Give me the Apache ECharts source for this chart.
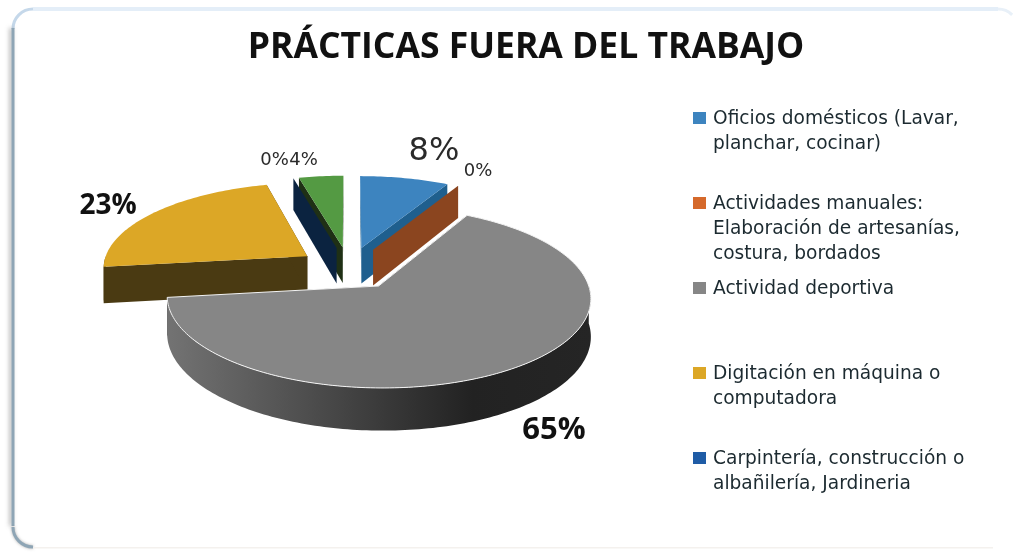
<!DOCTYPE html>
<html><head><meta charset="utf-8">
<style>html,body{margin:0;padding:0;background:#fff}#c{width:1018px;height:552px}</style>
<script src="https://cdn.jsdelivr.net/npm/echarts@6/dist/echarts.min.js"></script>
</head><body><div id="c"></div>
<script>
const categories = [
  'Oficios domésticos (Lavar,\nplanchar, cocinar)',
  'Actividades manuales:\nElaboración de artesanías,\ncostura, bordados',
  'Actividad deportiva',
  'Digitación en máquina o\ncomputadora',
  'Carpintería, construcción o\nalbañilería, Jardineria',
  'Otros'
];
const values = [8, 0, 65, 23, 0, 4];
const legendColors = ['#3d84bf', '#d5692b', '#868686', '#dca726', '#1f5ca6', '#549a43'];
const wallColors = ['#1f5f8e', '#8b451f', '#3f3f3f', '#4a3a12', '#0b2340', '#1f3015'];
const drawZ = [2, 5, 6, 1, 4, 3];
const legendTops = [107, 192, 277, 362, 447];
const labelLayout = [
  {x:434,y:152,size:32,weight:'normal',font:'"DejaVu Sans", sans-serif'},
  {x:478,y:171,size:18,weight:'normal',font:'"DejaVu Sans", sans-serif'},
  {x:554,y:430,size:31,weight:'bold',font:'"Open Sans", sans-serif'},
  {x:108,y:206,size:28,weight:'bold',font:'"Open Sans", sans-serif'},
  {x:274.5,y:160,size:18,weight:'normal',font:'"DejaVu Sans", sans-serif'},
  {x:303.5,y:160,size:18,weight:'normal',font:'"DejaVu Sans", sans-serif'}
];
const FONT = '"DejaVu Sans", sans-serif';
const view = {cx:349, cy:268, sx:205, sy:85, k:0.12, explode:0.25, depth:36.5};

function project(X, Y){
  const s = 1/(1+view.k*Y);
  return [view.cx + view.sx*X*s, view.cy - view.sy*Y*s, s];
}
function angleRange(i){
  let sum = 0; for(let j=0;j<i;j++) sum += values[j];
  const total = values.reduce((a,b)=>a+b,0);
  return [sum/total*Math.PI*2, (sum+values[i])/total*Math.PI*2];
}
function renderSlice(i, api){
  const v = api.value(0);
  const [a0,a1] = angleRange(i);
  const mid = (a0+a1)/2;
  const ex = Math.sin(mid)*view.explode, ey = Math.cos(mid)*view.explode;
  const apex = project(ex,ey);
  const rim = t => project(ex+Math.sin(t), ey+Math.cos(t));
  const flat = p => [p[0], p[1]];
  const down = p => [p[0], p[1]+view.depth*p[2]];
  const top=[flat(apex)]; const N=Math.max(1,Math.ceil((a1-a0)/0.02));
  for(let n=0;n<=N;n++) top.push(flat(rim(a0+(a1-a0)*n/N)));
  const children=[];
  const topColor = legendColors[i], wall = wallColors[i];
  const face = t => ({type:'polygon',shape:{points:[flat(apex),flat(rim(t)),down(rim(t)),down(apex)]},style:{fill:wall}});
  children.push(face(a0)); if(v>0) children.push(face(a1));
  if(v>0){
    const lo=Math.max(a0,Math.PI/2), hi=Math.min(a1,Math.PI*1.5);
    if(hi>lo){
      const upper=[]; const M=Math.ceil((hi-lo)/0.02);
      for(let n=0;n<=M;n++) upper.push(rim(lo+(hi-lo)*n/M));
      const xs=upper.map(p=>p[0]);
      const fill = i===2 ? {type:'linear',global:true,x:Math.max(...xs),y:0,x2:Math.min(...xs),y2:0,
        colorStops:[{offset:0,color:'#252525'},{offset:0.28,color:'#222222'},{offset:0.6,color:'#464646'},{offset:1,color:'#737373'}]} : wall;
      children.push({type:'polygon',shape:{points:upper.map(flat).concat(upper.map(down).reverse())},style:{fill}});
    }
    children.push({type:'polygon',shape:{points:top},style:{fill:topColor,stroke:i===2?'#f4f4f4':'none',lineWidth:i===2?1:0}});
  }
  const L=labelLayout[i];
  children.push({type:'text',z2:10,style:{text:v+'%',x:L.x,y:L.y,fill:L.weight==='bold'?'#111111':'#2a2a2a',
    font:L.weight+' '+L.size+'px '+L.font,textAlign:'center',textVerticalAlign:'middle'}});
  return {type:'group',children};
}
const series = categories.map((name,i)=>({
  type:'custom', name, coordinateSystem:'none', z:drawZ[i], silent:true,
  itemStyle:{color:legendColors[i]}, data:[[values[i]]],
  renderItem:(p,api)=>renderSlice(i,api)
}));
const legends = legendTops.map((t,i)=>{
  const h = categories[i].split('\n').length*25;
  const d = `M0,0L15,0L0,0Z M0,5H13V17H0Z M0,${h}L15,${h}L0,${h}Z`;
  return {left:693, top:t, orient:'vertical', selectedMode:false, data:[{name:categories[i],icon:'path://'+d}],
    itemWidth:15, itemHeight:h, padding:0, itemGap:0,
    textStyle:{fontFamily:FONT,fontSize:18.6,lineHeight:25,color:'#1c2a30'}};
});
const frameGraphic = [
  {type:'rect',z:0,shape:{x:33,y:7,width:965,height:4},style:{fill:'#e4eef8'}},
  {type:'arc',z:0,shape:{cx:33,cy:29,r:20,startAngle:Math.PI,endAngle:Math.PI*1.5},style:{stroke:'#c5d8ea',lineWidth:3,fill:'none'}},
  {type:'arc',z:0,shape:{cx:998,cy:29,r:20,startAngle:Math.PI*1.5,endAngle:Math.PI*1.75},style:{stroke:'#e8f0f8',lineWidth:3,fill:'none'}},
  {type:'rect',z:0,shape:{x:11.5,y:28,width:3,height:498},style:{fill:'#8ea5b5',shadowColor:'rgba(90,90,90,0.5)',shadowBlur:4,shadowOffsetX:-2}},
  {type:'arc',z:0,shape:{cx:33,cy:527,r:20,startAngle:Math.PI/2,endAngle:Math.PI},style:{stroke:'#8ea5b5',lineWidth:3,fill:'none',shadowColor:'rgba(90,90,90,0.5)',shadowBlur:3}},
  {type:'rect',z:0,shape:{x:33,y:547,width:960,height:1.5},style:{fill:'#f4f1ee'}}
];
const chart = echarts.init(document.getElementById('c'),null,{renderer:'canvas'});
chart.setOption({
  animation:false, backgroundColor:'#ffffff',
  title:{text:'PRÁCTICAS FUERA DEL TRABAJO',left:521,top:25,textAlign:'center',
    textStyle:{fontFamily:'"Open Sans", sans-serif',fontWeight:'bold',fontSize:35.5,color:'#111111'}},
  legend:legends, series, graphic:frameGraphic
});
</script></body></html>
